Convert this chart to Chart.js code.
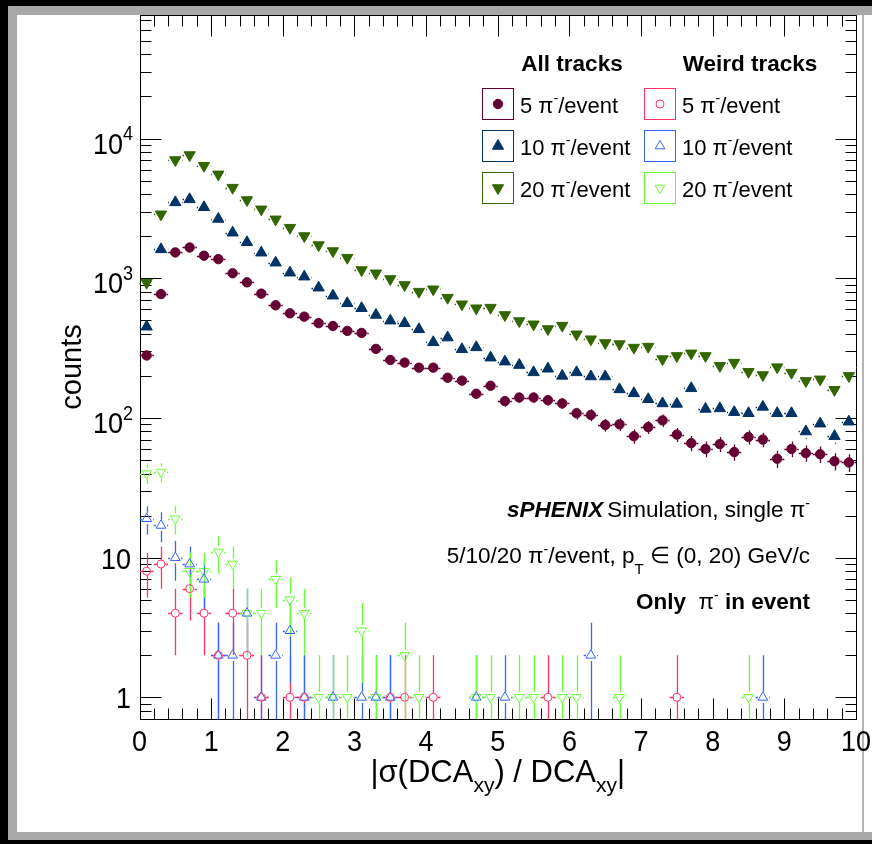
<!DOCTYPE html>
<html>
<head>
<meta charset="utf-8">
<script src="https://cdn.jsdelivr.net/npm/chart.js@4.4.1/dist/chart.umd.min.js"></script>
<style>
  html, body { margin: 0; padding: 0; background: #000; }
  #page { position: relative; width: 872px; height: 844px; overflow: hidden; background: #000; }
  #frame { position: absolute; left: 8px; top: 6px; width: 864px; height: 834px; background: #a8a8a8; }
  #inner { position: absolute; left: 17px; top: 15px; width: 855px; height: 817px; background: #fff; }
  #edge { position: absolute; left: 862px; top: 15px; width: 2px; height: 817px; background: #b4b4b4; }
  #c { position: absolute; left: 0; top: 0; }
</style>
</head>
<body>
<div id="page">
  <div id="frame"></div>
  <div id="inner"></div>
  <div id="edge"></div>
  <canvas id="c" width="872" height="844"></canvas>
</div>
<script>
// bin centres of |sigma(DCA_xy)/DCA_xy|, bin width 0.2
const binCenters = [0.1, 0.3, 0.5, 0.7, 0.9, 1.1, 1.3, 1.5, 1.7, 1.9,
                    2.1, 2.3, 2.5, 2.7, 2.9, 3.1, 3.3, 3.5, 3.7, 3.9,
                    4.1, 4.3, 4.5, 4.7, 4.9, 5.1, 5.3, 5.5, 5.7, 5.9,
                    6.1, 6.3, 6.5, 6.7, 6.9, 7.1, 7.3, 7.5, 7.7, 7.9,
                    8.1, 8.3, 8.5, 8.7, 8.9, 9.1, 9.3, 9.5, 9.7, 9.9];
const binHalfWidth = 0.1;

// all tracks
const all5 = [280, 770, 1530, 1660, 1450, 1370, 1085, 935, 776, 640,
              561, 531, 477, 455, 420, 406, 312, 260, 249, 229,
              229, 194, 185, 149, 170, 132, 140, 140, 134, 127,
              108, 105, 89, 90, 74, 86, 96, 76, 66, 60,
              65, 57, 73, 70, 51, 60, 56, 55, 49, 48];
const all10 = [450, 1610, 3490, 3670, 3220, 2656, 2118, 1808, 1523, 1292,
               1096, 1026, 856, 750, 662, 610, 546, 497, 476, 431,
               348, 376, 310, 320, 270, 253, 239, 212, 225, 200,
               212, 198, 198, 160, 150, 136, 127, 126, 163, 116,
               117, 110, 108, 120, 108, 108, 80, 91, 74, 94];
const all20 = [930, 2870, 7020, 7620, 6390, 5540, 4450, 3630, 3115, 2640,
               2300, 2005, 1728, 1566, 1403, 1145, 1085, 988, 895, 802,
               834, 726, 651, 610, 616, 546, 494, 468, 433, 458,
               397, 366, 344, 338, 319, 324, 264, 278, 290, 278,
               236, 249, 214, 203, 231, 211, 184, 189, 159, 200];

// weird tracks (0 = empty bin)
const weird5 = [8, 9, 4, 6, 4, 2, 4, 2, 1, 0,
                1, 1, 0, 0, 0, 0, 0, 1, 1, 0,
                1, 0, 0, 0, 0, 0, 0, 0, 1, 0,
                0, 0, 0, 0, 0, 0, 0, 1, 0, 0,
                0, 0, 0, 0, 0, 0, 0, 0, 0, 0];
const weird10 = [19, 17, 10, 9, 7, 2, 2, 4, 1, 2,
                 3, 1, 0, 1, 0, 1, 1, 1, 0, 0,
                 0, 0, 0, 1, 0, 1, 0, 0, 0, 0,
                 0, 2, 0, 0, 0, 0, 0, 0, 0, 0,
                 0, 0, 0, 1, 0, 0, 0, 0, 0, 0];
const weird20 = [40, 41, 19, 8, 8, 11, 9, 4, 4, 7,
                 5, 4, 1, 1, 1, 3, 1, 0, 2, 1,
                 0, 0, 0, 1, 1, 0, 1, 1, 0, 1,
                 1, 0, 0, 1, 0, 0, 0, 0, 0, 0,
                 0, 0, 1, 0, 0, 0, 0, 0, 0, 0];

const xTickLabels = ['0', '1', '2', '3', '4', '5', '6', '7', '8', '9', '10'];
const yTickValues = [1, 10, 100, 1000, 10000];

const FONT = '"Liberation Sans", Arial, Helvetica, sans-serif';

function points(vals) {
  const out = [];
  for (let i = 0; i < vals.length; i++) {
    if (vals[i] > 0) out.push({ x: binCenters[i], y: vals[i] });
  }
  return out;
}

const series = [
  { label: '5', vals: all5, color: '#660033', style: 'circle', r: 4.7, rot: 0, filled: true },
  { label: '10', vals: all10, color: '#003366', style: 'triangle', r: 6.5, rot: 0, filled: true },
  { label: '20', vals: all20, color: '#336600', style: 'triangle', r: 6.5, rot: 180, filled: true },
  { label: '5', vals: weird5, color: '#ff3366', style: 'circle', r: 4, rot: 0, filled: false },
  { label: '10', vals: weird10, color: '#3366ff', style: 'triangle', r: 5.6, rot: 0, filled: false },
  { label: '20', vals: weird20, color: '#66ff33', style: 'triangle', r: 5.6, rot: 180, filled: false }
];

function font(size, bold, italic) {
  return (italic ? 'italic ' : '') + (bold ? 'bold ' : '') + size + 'px ' + FONT;
}

// draw text made of parts with different size / offset
function rich(ctx, parts, x, y, align, sy) {
  sy = sy || 1;
  let w = 0;
  parts.forEach(p => { ctx.font = font(p.s, p.b, p.i); p.w = ctx.measureText(p.t).width + (p.gap || 0); w += p.w; });
  let cx = align === 'right' ? x - w : align === 'center' ? x - w / 2 : x;
  ctx.save();
  ctx.translate(0, y);
  ctx.scale(1, sy);
  ctx.textAlign = 'left';
  parts.forEach(p => { ctx.font = font(p.s, p.b, p.i); ctx.fillText(p.t, cx, (p.dy || 0)); cx += p.w; });
  ctx.restore();
}

function piMinus(s, extra) {
  return [{ t: 'π', s: s }, { t: '-', s: Math.round(s * 0.62), dy: -s * 0.42 }].concat(extra || []);
}

const errorBars = {
  id: 'errorBars',
  beforeDatasetsDraw(chart) {
    const { ctx, chartArea: a, scales: { x, y } } = chart;
    ctx.save();
    ctx.beginPath();
    ctx.rect(a.left, a.top, a.right - a.left, a.bottom - a.top);
    ctx.clip();
    ctx.lineWidth = 1.3;
    chart.data.datasets.forEach(ds => {
      ctx.strokeStyle = ds.borderColor;
      const gap = ds.pointRadius;
      ds.data.forEach(p => {
        const px = Math.round(x.getPixelForValue(p.x)) + 0.5;
        const py = y.getPixelForValue(p.y);
        const xl = x.getPixelForValue(p.x - binHalfWidth);
        const xr = x.getPixelForValue(p.x + binHalfWidth);
        const e = Math.sqrt(p.y);
        const yt = y.getPixelForValue(p.y + e);
        const yb = p.y - e > 0 ? y.getPixelForValue(p.y - e) : a.bottom + 2;
        const hy = Math.round(py) + 0.5;
        ctx.beginPath();
        if (px - gap > xl) { ctx.moveTo(xl, hy); ctx.lineTo(px - gap, hy); }
        if (px + gap < xr) { ctx.moveTo(px + gap, hy); ctx.lineTo(xr, hy); }
        if (py - gap > yt) { ctx.moveTo(px, py - gap); ctx.lineTo(px, yt); }
        if (py + gap < yb) { ctx.moveTo(px, py + gap); ctx.lineTo(px, yb); }
        ctx.stroke();
      });
    });
    ctx.restore();
  }
};

const rootAxes = {
  id: 'rootAxes',
  beforeDatasetsDraw(chart) {
    const { ctx, chartArea: a, scales: { x, y } } = chart;
    const L = Math.round(a.left) + 0.5, R = Math.round(a.right) + 0.5;
    const T = Math.round(a.top) + 0.5, B = Math.round(a.bottom) + 0.5;
    ctx.save();
    ctx.strokeStyle = '#000';
    ctx.lineWidth = 1;
    ctx.beginPath();
    ctx.rect(L, T, R - L, B - T);
    // x ticks, bottom and top
    for (let i = 0; i <= 50; i++) {
      const v = i * 0.2;
      const len = i % 5 === 0 ? 21 : 11;
      const px = Math.round(x.getPixelForValue(v)) + 0.5;
      ctx.moveTo(px, B); ctx.lineTo(px, B - len);
      ctx.moveTo(px, T); ctx.lineTo(px, T + len);
    }
    // y ticks, left and right
    for (let k = -1; k <= 4; k++) {
      for (let m = 1; m <= 9; m++) {
        const v = m * Math.pow(10, k);
        if (v < y.min || v > y.max) continue;
        const len = m === 1 ? 21 : 11;
        const py = Math.round(y.getPixelForValue(v)) + 0.5;
        ctx.moveTo(L, py); ctx.lineTo(L + len, py);
        ctx.moveTo(R, py); ctx.lineTo(R - len, py);
      }
    }
    ctx.stroke();

    // tick labels
    ctx.fillStyle = '#000';
    ctx.textBaseline = 'alphabetic';
    xTickLabels.forEach((t, i) => {
      rich(ctx, [{ t: t, s: 27 }], x.getPixelForValue(i), 751, 'center', 1.12);
    });
    yTickValues.forEach(v => {
      const py = y.getPixelForValue(v);
      const k = Math.round(Math.log10(v));
      if (k === 0) rich(ctx, [{ t: '1', s: 27 }], 131, py + 11, 'right', 1.12);
      else if (k === 1) rich(ctx, [{ t: '10', s: 27 }], 131, py + 11, 'right', 1.12);
      else rich(ctx, [{ t: '10', s: 27 }, { t: String(k), s: 18, dy: -12 }], 133, py + 15, 'right', 1.12);
    });

    // axis titles
    rich(ctx, [{ t: '|σ(DCA', s: 31 }, { t: 'xy', s: 21, dy: 10 }, { t: ') / DCA', s: 31 },
               { t: 'xy', s: 21, dy: 10 }, { t: '|', s: 31 }], (a.left + a.right) / 2, 782, 'center');
    ctx.save();
    ctx.translate(81, (a.top + a.bottom) / 2);
    ctx.rotate(-Math.PI / 2);
    rich(ctx, [{ t: 'counts', s: 29 }], 0, 0, 'center');
    ctx.restore();
    ctx.restore();
  }
};

const annotations = {
  id: 'annotations',
  afterDraw(chart) {
    const ctx = chart.ctx;
    ctx.save();
    ctx.fillStyle = '#000';
    ctx.textBaseline = 'alphabetic';
    // legend headers
    rich(ctx, [{ t: 'All tracks', s: 22.5, b: true }], 572, 71, 'center');
    rich(ctx, [{ t: 'Weird tracks', s: 22.5, b: true }], 750, 71, 'center');
    const rows = [103.5, 145.5, 187.5];
    const cols = [482, 644];
    series.forEach((s, i) => {
      const col = cols[Math.floor(i / 3)];
      const ry = rows[i % 3];
      ctx.strokeStyle = s.color;
      ctx.lineWidth = 1;
      ctx.strokeRect(col + 0.5, ry - 15, 31, 31);
      ctx.fillStyle = s.filled ? s.color : 'rgba(0,0,0,0)';
      Chart.helpers.drawPoint(ctx, { pointStyle: s.style, radius: s.r, rotation: s.rot, borderWidth: 1 },
        col + 16, ry + 0.5);
      ctx.fillStyle = '#000';
      rich(ctx, [{ t: s.label + ' ', s: 22 }].concat(piMinus(22, [{ t: '/event', s: 22 }])), col + 38, ry + 9, 'left');
    });
    // sPHENIX labels
    rich(ctx, [{ t: 'sPHENIX', s: 22.5, b: true, i: true, gap: 4 }, { t: 'Simulation, single ', s: 22.5 }].concat(piMinus(22.5)),
      810, 517, 'right');
    rich(ctx, [{ t: '5/10/20 ', s: 22.5 }].concat(piMinus(22.5, [{ t: '/event, p', s: 22.5 }, { t: 'T', s: 15, dy: 11 },
      { t: ' ∈ (0, 20) GeV/c', s: 22.5 }])), 810, 563, 'right');
    rich(ctx, [{ t: 'Only  ', s: 22.5, b: true }].concat(piMinus(22.5, [{ t: ' in event', s: 22.5, b: true }])), 810, 609, 'right');
    ctx.restore();
  }
};

new Chart(document.getElementById('c'), {
  type: 'scatter',
  data: {
    datasets: series.map(s => ({
      label: s.label,
      data: points(s.vals),
      pointStyle: s.style,
      pointRadius: s.r,
      pointRotation: s.rot,
      pointBorderWidth: 1,
      borderColor: s.color,
      backgroundColor: s.filled ? s.color : 'rgba(0,0,0,0)',
      showLine: false
    }))
  },
  options: {
    responsive: false,
    animation: false,
    devicePixelRatio: 1,
    events: [],
    layout: { padding: { left: 139.5, right: 16, top: 15, bottom: 125 } },
    plugins: { legend: { display: false }, tooltip: { enabled: false } },
    scales: {
      x: { type: 'linear', min: 0, max: 10, display: false },
      y: { type: 'logarithmic', min: 0.7, max: 76600, display: false }
    }
  },
  plugins: [rootAxes, errorBars, annotations]
});
</script>
</body>
</html>
